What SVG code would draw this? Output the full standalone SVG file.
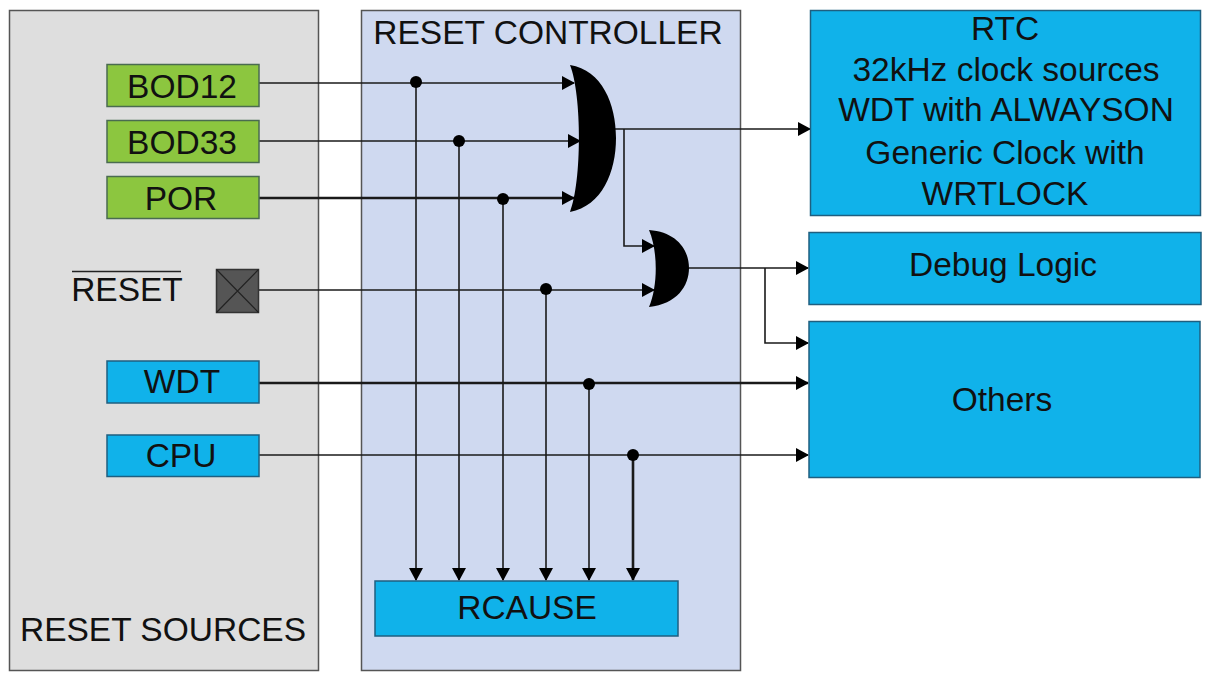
<svg xmlns="http://www.w3.org/2000/svg" width="1209" height="676" viewBox="0 0 1209 676">
<style>
text{font-family:"Liberation Sans",Arial,sans-serif;font-size:33.500px;fill:#111;text-anchor:middle}
.panel{stroke:#555;stroke-width:1.5}
.g{fill:#8cc63f;stroke:#4a6b50;stroke-width:1.5}
.b{fill:#10b2ea;stroke:#1f5f80;stroke-width:1.5}
.w{fill:none;stroke:#1a1a1a;stroke-width:1.6}
.t{stroke-width:2.6}
.gate{fill:#000}
</style>
<defs>
<marker id="a" viewBox="0 0 13 14" markerUnits="userSpaceOnUse" markerWidth="13" markerHeight="14" refX="12" refY="7" orient="auto"><path d="M0 0L13 7L0 14Z" fill="#000"/></marker>
</defs>
<rect width="1209" height="676" fill="#fff"/>
<g id="reset-sources"><rect class="panel" x="9.500" y="10.500" width="309" height="660" fill="#dedede"/><text x="163" y="641">RESET SOURCES</text></g>
<g id="reset-controller"><rect class="panel" x="361.500" y="10.500" width="379" height="660" fill="#cfd9f0"/><text x="548" y="44">RESET CONTROLLER</text></g>
<g id="connectors">
<path class="w" marker-end="url(#a)" d="M259 83H574"/>
<path class="w" marker-end="url(#a)" d="M259 141H580"/>
<path class="w t" marker-end="url(#a)" d="M259 198H574"/>
<path class="w" marker-end="url(#a)" d="M259 290H654"/>
<path class="w t" marker-end="url(#a)" d="M259 383H808"/>
<path class="w" marker-end="url(#a)" d="M259 455H808"/>
<path class="w" marker-end="url(#a)" d="M615 129H810"/>
<path class="w" marker-end="url(#a)" d="M624 129V246H654"/>
<path class="w" marker-end="url(#a)" d="M689 268H808"/>
<path class="w" marker-end="url(#a)" d="M765 268V343H808"/>
<path class="w" marker-end="url(#a)" d="M416 82V580"/>
<path class="w" marker-end="url(#a)" d="M459 141V580"/>
<path class="w" marker-end="url(#a)" d="M503 199V580"/>
<path class="w" marker-end="url(#a)" d="M546 289V580"/>
<path class="w" marker-end="url(#a)" d="M589 384V580"/>
<path class="w t" marker-end="url(#a)" d="M633 455V580"/>
<g fill="#000"><circle cx="416" cy="82" r="6"/><circle cx="459" cy="141" r="6"/><circle cx="503" cy="199" r="6"/><circle cx="546" cy="289" r="6"/><circle cx="589" cy="384" r="6"/><circle cx="633" cy="455" r="6"/></g>
</g>
<g id="bod12"><rect class="g" x="107" y="64.500" width="152" height="42"/><text x="182" y="98">BOD12</text></g>
<g id="bod33"><rect class="g" x="107" y="120.500" width="152" height="42"/><text x="182" y="154">BOD33</text></g>
<g id="por"><rect class="g" x="107" y="176.500" width="152" height="42"/><text x="181" y="210">POR</text></g>
<g id="reset-pin"><text x="127" y="301">RESET</text><path d="M72 271.500H181" stroke="#222" stroke-width="1.500"/><rect x="216.500" y="269.500" width="42" height="43" fill="#555" stroke="#333" stroke-width="1.500"/><path d="M216.500 269.500L258.500 312.500M258.500 269.500L216.500 312.500" stroke="#222" stroke-width="1.200"/></g>
<g id="wdt"><rect class="b" x="107" y="361" width="152" height="42"/><text x="182" y="393">WDT</text></g>
<g id="cpu"><rect class="b" x="107" y="435" width="152" height="41.500"/><text x="181" y="467">CPU</text></g>
<g id="or-main"><path class="gate" d="M570 65C602 70 616 104 616 138C616 172 602 206 570 212C582 182 582 95 570 65Z"/></g>
<g id="or-second"><path class="gate" d="M649 230C677 232 689 250 689 268C689 286 677 304 649 307C658 286 658 251 649 230Z"/></g>
<g id="rcause"><rect class="b" x="375" y="581" width="303" height="55"/><text x="527" y="619">RCAUSE</text></g>
<g id="rtc"><rect class="b" x="810.500" y="10.500" width="390" height="205"/><text x="1005" y="40">RTC</text><text x="1006" y="81">32kHz clock sources</text><text x="1006" y="121">WDT with ALWAYSON</text><text x="1005" y="164">Generic Clock with</text><text x="1005" y="205">WRTLOCK</text></g>
<g id="debug"><rect class="b" x="809" y="232.500" width="392" height="72"/><text x="1003" y="276">Debug Logic</text></g>
<g id="others"><rect class="b" x="809" y="321.500" width="391" height="156"/><text x="1002" y="411">Others</text></g>
</svg>
